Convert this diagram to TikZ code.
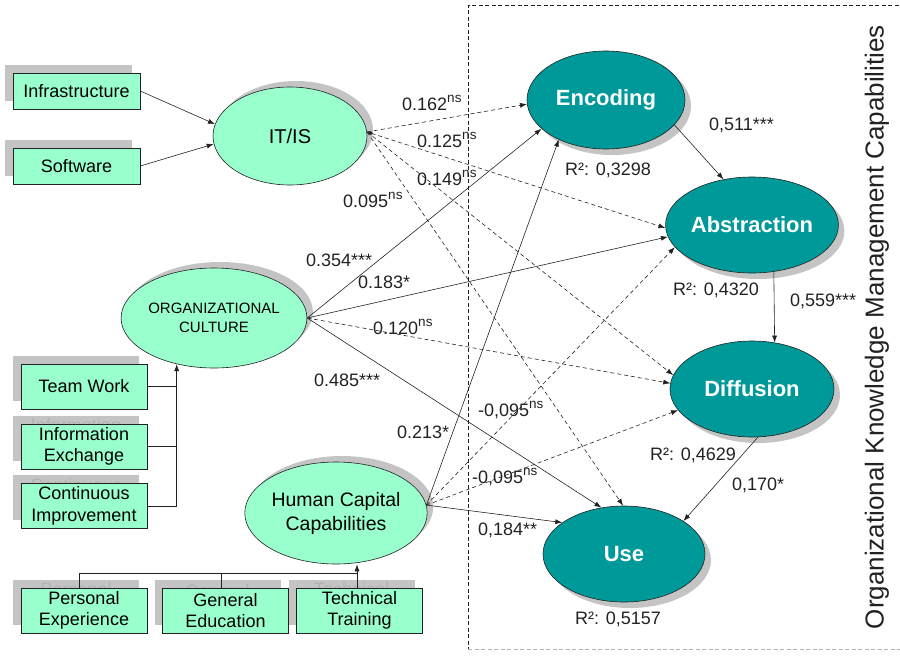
\documentclass[tikz,border=0pt]{standalone}
\usepackage{fontspec}
\setmainfont{Liberation Sans}
\usetikzlibrary{shapes.geometric,arrows.meta,shadows,calc}

\definecolor{mint}{HTML}{99FFCC}
\definecolor{tealfill}{HTML}{009999}
\definecolor{shade}{HTML}{C4C4C4}
\definecolor{shadetext}{HTML}{B3B3B3}
\definecolor{ink}{HTML}{222222}

% a factor box together with its offset grey shadow copy
\newcommand\factorbox[5][]{%
  \node[factor,#1,fill=shade,draw=none,text=shadetext] (#2-sh) at (#3-8,#4-8.5) {#5};
  \node[factor,#1] (#2) at (#3,#4) {#5};}
% "ns" mark set above the coefficient
\newcommand\signif[1]{\raisebox{0.4em}{\fontsize{13.5}{13.5}\selectfont #1}}

\begin{document}
\begin{tikzpicture}[x=1pt,y=-1pt,
  link/.style={draw=ink,line width=0.6pt},
  arr/.style={link,-{Latex[length=7pt,width=5pt]}},
  dsh/.style={arr,dash pattern=on 4pt off 3pt},
  factor/.style={draw=ink,fill=mint,line width=0.6pt,minimum width=127pt,
    minimum height=36pt,inner sep=0pt,align=center,
    font=\fontsize{18}{21.5}\selectfont},
  tall/.style={minimum width=126pt,minimum height=45pt},
  construct/.style={ellipse,draw=ink,fill=mint,line width=0.6pt,inner sep=0pt,
    align=center,drop shadow={shadow xshift=6pt,shadow yshift=6pt,fill=shade,opacity=1}},
  capability/.style={ellipse,draw=ink,fill=tealfill,line width=0.6pt,inner sep=0pt,
    text=white,font=\fontsize{22}{26}\bfseries\selectfont,
    drop shadow={shadow xshift=6pt,shadow yshift=-6pt,fill=shade,opacity=1}},
  coef/.style={anchor=west,inner sep=0pt,text=ink,font=\fontsize{18}{21}\selectfont},
]
\useasboundingbox (0,0) rectangle (900,656);

% frame of the knowledge management block
\draw[ink,dash pattern=on 4pt off 2.5pt,line width=0.6pt] (905,5) -- (468,5) -- (468,649);
\draw[gray!60,dash pattern=on 4pt off 2.5pt,line width=0.6pt] (468,649) -- (905,649);
\node[rotate=90,inner sep=0pt,font=\fontsize{26}{30}\selectfont,text=ink] (title) at (877,327)
  {Organizational Knowledge Management Capabilities};

% observed factors
\factorbox{infra}{76.5}{91}{Infrastructure}
\factorbox{soft}{76.5}{166}{Software}
\factorbox[tall]{team}{84}{386.5}{Team Work}
\factorbox[tall]{info}{84}{446.5}{Information\\Exchange}
\factorbox[tall]{cont}{84}{506}{Continuous\\Improvement}
\factorbox[tall]{pers}{84}{610.5}{Personal\\Experience}
\factorbox[tall]{gen}{225.5}{610.5}{General\\Education}
\factorbox[tall]{tech}{359.5}{610.5}{Technical\\Training}

% antecedent constructs
\node[construct,minimum width=154pt,minimum height=98pt,font=\fontsize{20}{24}\selectfont]
  (itis) at (290,136) {IT/IS};
\node[construct,minimum width=166pt,minimum height=100pt,font=\fontsize{15}{19}\selectfont]
  (oc) at (214,318) {ORGANIZATIONAL\\CULTURE};
\node[construct,minimum width=178pt,minimum height=102pt,font=\fontsize{19.5}{24}\selectfont]
  (hcc) at (336,513) {Human Capital\\Capabilities};

% knowledge management capabilities
\node[capability,minimum width=158pt,minimum height=98pt] (enc) at (606,100) {Encoding};
\node[capability,minimum width=162pt,minimum height=96pt] (abs) at (752,225) {Abstraction};
\node[capability,minimum width=164pt,minimum height=96pt] (dif) at (752,389) {Diffusion};
\node[capability,minimum width=162pt,minimum height=96pt] (use) at (624,554) {Use};

% formative indicators
\draw[arr] (infra.east) -- (itis.171);
\draw[arr] (soft.east) -- (itis.186);
\draw[arr] (cont.east) -| (oc.231);
\draw[link] (team.east) -- (team.east -| oc.231);
\draw[link] (info.east) -- (info.east -| oc.231);
\coordinate (hj) at (357,573);
\draw[link] ([xshift=-5pt]pers.north) |- (hj);
\draw[link] ([xshift=-4pt]gen.north) -- ([xshift=-4pt]gen.north |- hj);
\draw[link] ([xshift=-2.5pt]tech.north) -- (hj);
\draw[arr] (hj) -- (hj |- hcc.south);

% structural paths
\draw[dsh] (itis.3) -- (enc.183);
\draw[dsh,{Latex[length=5pt,width=4pt]}-{Latex[length=7pt,width=5pt]}] (itis.3) -- (abs.182);
\draw[dsh] (itis.3) -- (dif.170);
\draw[dsh] (itis.3) -- (use.91);

\draw[arr] (oc.east) -- (enc.204);
\draw[arr] (oc.east) -- (abs.188);
\draw[dsh] (oc.east) -- (dif.176);
\draw[arr] (oc.east) -- (use.116);

\draw[arr] (hcc.5) -- (enc.220);
\draw[dsh] (hcc.5) -- (abs.196);
\draw[dsh] (hcc.5) -- (dif.196);
\draw[arr] (hcc.5) -- (use.153);

\draw[arr] (enc.340) -- (abs.122);
\draw[arr] (abs.295.5) -- (dif.64.5);
\draw[arr] (dif.277) -- (use.29);

% path coefficients
\node[coef] (c1) at (402,103) {0.162\signif{ns}};
\node[coef] (c2) at (417,140) {0.125\signif{ns}};
\node[coef] (c3) at (417,178) {0.149\signif{ns}};
\node[coef] (c4) at (343,200) {0.095\signif{ns}};
\node[coef] (c5) at (306,260) {0.354***};
\node[coef] (c6) at (358,282) {0.183*};
\node[coef] (c7) at (373,327) {0.120\signif{ns}};
\node[coef] (c8) at (314,380) {0.485***};
\node[coef] (c9) at (397,432) {0.213*};
\node[coef] (c10) at (478,410) {-0,095\signif{ns}};
\node[coef] (c11) at (472,477) {-0,095\signif{ns}};
\node[coef] (c12) at (478,530) {0,184**};
\node[coef] (c13) at (709,125) {0,511***};
\node[coef] (c14) at (790,301) {0,559***};
\node[coef] (c15) at (732,485) {0,170*};

% explained variance
\node[coef] (r1) at (565,170) {R²: 0,3298};
\node[coef] (r2) at (673,290) {R²: 0,4320};
\node[coef] (r3) at (650,455) {R²: 0,4629};
\node[coef] (r4) at (575,619) {R²: 0,5157};
\end{tikzpicture}
\end{document}
